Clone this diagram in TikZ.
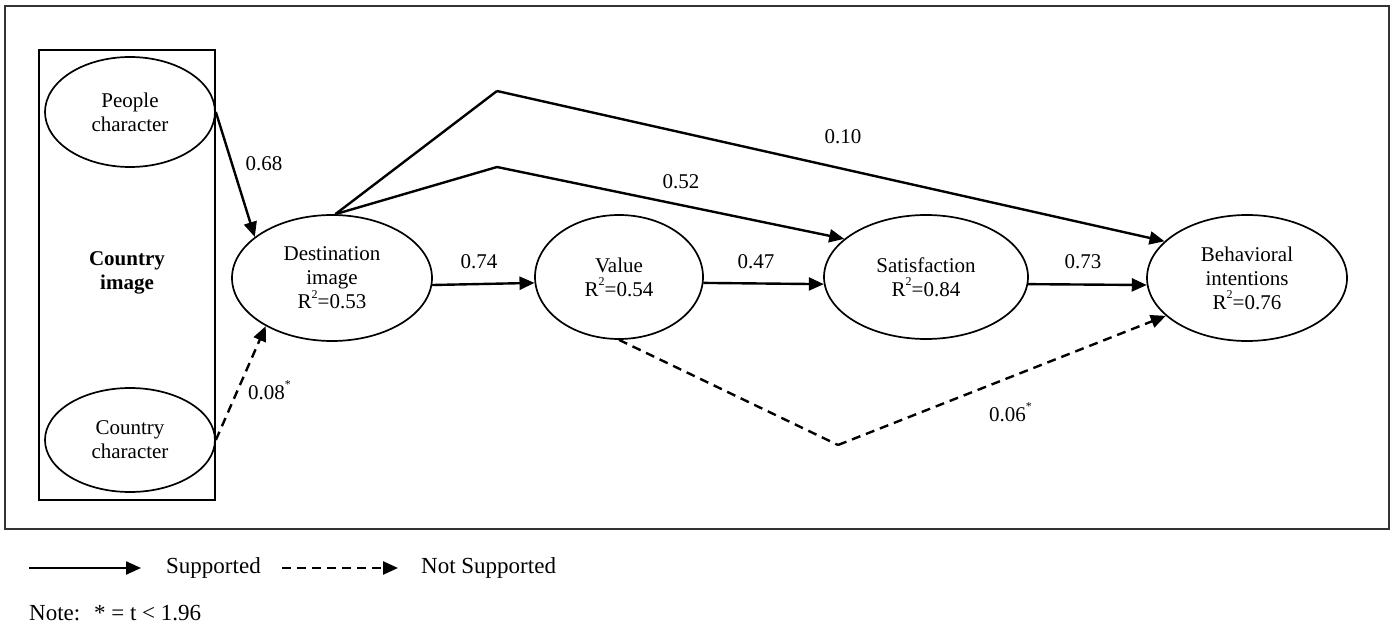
\documentclass[tikz,border=0pt]{standalone}
\usepackage{fontspec}
\setmainfont{Liberation Serif}
\usetikzlibrary{shapes.geometric,arrows.meta}
\newcommand\mysup[1]{\raisebox{0.5em}{\fontsize{12}{12}\selectfont #1}}
\tikzset{
  lat/.style={ellipse,draw,line width=1.7pt,inner sep=0pt,align=center,
    font=\fontsize{21}{24}\selectfont},
  lbl/.style={font=\fontsize{21}{24}\selectfont,inner sep=0pt},
  leg/.style={font=\fontsize{23}{26}\selectfont,inner sep=0pt},
  tip/.style={-{Triangle[length=15pt,width=13pt]}},
  pth/.style={line width=2.4pt,tip},
  plain/.style={line width=2.4pt},
  dsh/.style={line width=2.4pt,dash pattern=on 9pt off 6pt},
}
\begin{document}
\begin{tikzpicture}[x=1pt,y=-1pt]
\useasboundingbox (0,0) rectangle (1392,628);
\draw[line width=1.4pt,black!80] (5,6) rectangle (1389,529);
\draw[line width=2pt] (39,50) rectangle (215,500);
\node[lat,minimum width=170pt,minimum height=110pt] (pc) at (130,112) {People\\character};
\node[lat,minimum width=170pt,minimum height=104pt] (cc) at (130,440) {Country\\character};
\node[font=\fontsize{21}{24}\selectfont\bfseries,align=center,inner sep=0pt] (ci) at (127,273) {Country\\image};
\node[lat,minimum width=200pt,minimum height=126pt] (di) at (332,278) {Destination\\image\\R\mysup{2}=0.53};
\node[lat,minimum width=168pt,minimum height=124pt] (va) at (619,277) {Value\\R\mysup{2}=0.54};
\node[lat,minimum width=204pt,minimum height=124pt] (sa) at (926,277) {Satisfaction\\R\mysup{2}=0.84};
\node[lat,minimum width=200pt,minimum height=126pt] (bi) at (1247,278) {Behavioral\\intentions\\R\mysup{2}=0.76};
\coordinate (k1) at (497,91);
\coordinate (k2) at (497,167);
\coordinate (k3) at (838,445);
\draw[pth] (pc.east) -- (di.152);
\draw[dsh,tip] (cc.east) -- (di.216);
\draw[pth] (di.-4) -- (va.184);
\draw[pth] (va.-4) -- (sa.184);
\draw[pth] (sa.-4) -- (bi.184);
\draw[plain] (di.87) -- (k1);
\draw[pth] (k1) -- (bi.156);
\draw[plain] (di.87) -- (k2);
\draw[pth] (k2) -- (sa.155);
\draw[dsh] (va.south) -- (k3);
\draw[dsh,tip] (k3) -- (bi.205);
\node[lbl] (l68) at (264,164) {0.68};
\node[lbl,anchor=west] (l08) at (248,390) {0.08\mysup{*}};
\node[lbl] (l74) at (479,262) {0.74};
\node[lbl] (l47) at (756,262) {0.47};
\node[lbl] (l73) at (1083,262) {0.73};
\node[lbl] (l52) at (681,182) {0.52};
\node[lbl] (l10) at (843,137) {0.10};
\node[lbl,anchor=west] (l06) at (989,412) {0.06\mysup{*}};
\coordinate (s1) at (29,568);
\coordinate (s2) at (141,568);
\draw[pth] (s1) -- (s2);
\node[leg,anchor=west] (sup) at (166,568) {Supported};
\coordinate (d1) at (282,568);
\coordinate (d2) at (398,568);
\draw[dsh,tip] (d1) -- (d2);
\node[leg,anchor=west] (nsup) at (421,568) {Not Supported};
\node[leg,anchor=west] (note) at (29,613) {Note:\hspace{0.6em}* = t < 1.96};
\end{tikzpicture}
\end{document}
